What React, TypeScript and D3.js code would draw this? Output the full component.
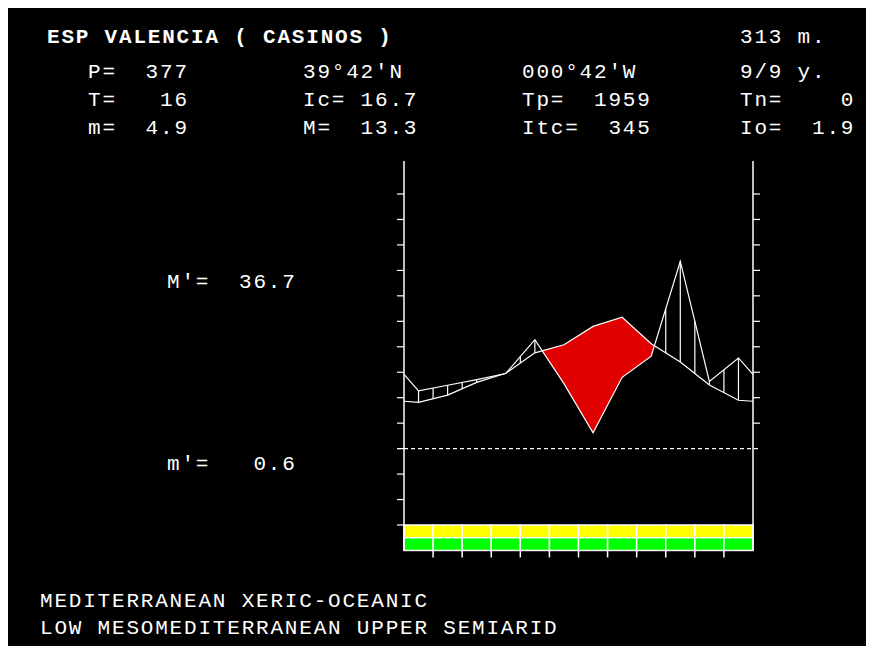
import React from "react";
import * as d3 from "d3";

// monthly means (Jan..Dec)
const months = ["J", "F", "M", "A", "M", "J", "J", "A", "S", "O", "N", "D"];
const temperature = [9.1, 10.5, 13.0, 14.8, 18.8, 20.4, 24.0, 25.8, 20.6, 17.0, 12.5, 9.5];
const precipitation = [22.7, 24.9, 27.1, 29.5, 42.8, 25.5, 6.2, 28.0, 36.3, 73.6, 26.4, 35.6];

// frost bands under the plot, one code per month
const frostUpper = ["Y", "Y", "Y", "Y", "Y", "Y", "Y", "Y", "Y", "Y", "Y", "Y"];
const frostLower = ["G", "G", "G", "G", "G", "G", "G", "G", "G", "G", "G", "G"];

const leftTicks = [-15, -10, -5, 0, 5, 10, 15, 20, 25, 30, 35, 40, 45, 50];
const rightTicks = [5, 10, 15, 20, 25, 30, 35, 40, 45, 50];

const title = "ESP VALENCIA ( CASINOS )";
const altitude = "313 m.";
const statRows = [
  ["P=  377", "39°42'N", "000°42'W", "9/9 y."],
  ["T=   16", "Ic= 16.7", "Tp=  1959", "Tn=    0"],
  ["m=  4.9", "M=  13.3", "Itc=  345", "Io=  1.9"],
];
const extremes = ["M'=  36.7", "m'=   0.6"];
const bioclimate = ["MEDITERRANEAN XERIC-OCEANIC", "LOW MESOMEDITERRANEAN UPPER SEMIARID"];

const bandColor: Record<string, string> = { Y: "#ffff00", G: "#00ff00" };

const OFF = 8; // body margin, everything below is in page pixels
const font = {
  fontFamily: "'Liberation Mono', 'DejaVu Sans Mono', monospace",
  fontSize: 21,
  letterSpacing: 1.8,
};
const pre = { whiteSpace: "pre" as const };

export default function App() {
  const x = d3.scaleLinear().domain([0, 12]).range([404, 753]);
  const y = d3.scaleLinear().domain([-15, 50]).range([525, 194]);
  const yTop = 56.5;
  const yBottom = -20;

  const pHalf = precipitation.map((p) => p / 2);
  const edgeT = (temperature[0] + temperature[11]) / 2;
  const edgeP = (pHalf[0] + pHalf[11]) / 2;
  const pos = [0, ...months.map((_, i) => i + 0.5), 12];
  const tVals = [edgeT, ...temperature, edgeT];
  const pVals = [edgeP, ...pHalf, edgeP];
  const tAt = d3.scaleLinear().domain(pos).range(tVals);
  const pAt = d3.scaleLinear().domain(pos).range(pVals);

  const tPts = pos.map((p, i) => [p, tVals[i]] as [number, number]);
  const pPts = pos.map((p, i) => [p, pVals[i]] as [number, number]);

  const line = d3
    .line<[number, number]>()
    .x((d) => x(d[0]))
    .y((d) => y(d[1]));
  const underT = d3
    .area<[number, number]>()
    .x((d) => x(d[0]))
    .y0(y(yBottom))
    .y1((d) => y(d[1]));
  const aboveP = d3
    .area<[number, number]>()
    .x((d) => x(d[0]))
    .y0((d) => y(d[1]))
    .y1(y(yTop));

  const hatch = d3
    .range(25)
    .map((k) => k / 2)
    .filter((h) => h > 0 && h < 12 && pAt(h) > tAt(h) + 0.1);

  const cols = [88, 303, 522, 740];
  const rowY = [78, 106, 134];

  return (
    <div>
      <style>{`html,body{overflow:hidden}`}</style>
      <svg width={866} height={638} style={{ display: "block", background: "#000" }}>
        <g transform={`translate(${-OFF},${-OFF})`}>
          <defs>
            <clipPath id="dry">
              <path d={underT(tPts) || ""} />
            </clipPath>
          </defs>

          <g fill="#fff">
            <text x={47} y={43} {...font} fontWeight="bold" style={pre}>
              {title}
            </text>
            <text x={740} y={43} {...font} style={pre}>
              {altitude}
            </text>
            {statRows.map((row, r) =>
              row.map((s, c) => (
                <text key={`${r}-${c}`} x={cols[c]} y={rowY[r]} {...font} style={pre}>
                  {s}
                </text>
              ))
            )}
            <text x={167} y={288} {...font} style={pre}>
              {extremes[0]}
            </text>
            <text x={167} y={470} {...font} style={pre}>
              {extremes[1]}
            </text>
            {bioclimate.map((s, i) => (
              <text key={s} x={40} y={607 + i * 27} {...font} style={pre}>
                {s}
              </text>
            ))}
          </g>

          {/* dry period */}
          <g clipPath="url(#dry)">
            <path d={aboveP(pPts) || ""} fill="#e00000" />
          </g>

          {/* humid period hatching */}
          {hatch.map((h) => (
            <line key={h} x1={x(h)} x2={x(h)} y1={y(pAt(h))} y2={y(tAt(h))} stroke="#fff" strokeWidth={1.2} />
          ))}

          <path d={line(tPts) || ""} fill="none" stroke="#fff" strokeWidth={1.2} />
          <path d={line(pPts) || ""} fill="none" stroke="#fff" strokeWidth={1.2} />

          {/* frost bands */}
          {months.map((m, i) => (
            <g key={i}>
              <rect
                x={x(i)}
                y={y(-15)}
                width={x(i + 1) - x(i)}
                height={y(-17.5) - y(-15)}
                fill={bandColor[frostUpper[i]]}
                stroke="#fff"
                strokeWidth={1.5}
              />
              <rect
                x={x(i)}
                y={y(-17.5)}
                width={x(i + 1) - x(i)}
                height={y(yBottom) - y(-17.5)}
                fill={bandColor[frostLower[i]]}
                stroke="#fff"
                strokeWidth={1.5}
              />
            </g>
          ))}
          {d3.range(1, 12).map((i) => (
            <line key={i} x1={x(i)} x2={x(i)} y1={y(yBottom)} y2={y(yBottom) + 7} stroke="#fff" strokeWidth={1.5} />
          ))}

          {/* axes */}
          <line x1={x(0)} x2={x(0)} y1={y(yTop)} y2={y(yBottom)} stroke="#fff" strokeWidth={1.5} />
          <line x1={x(12)} x2={x(12)} y1={y(yTop)} y2={y(yBottom)} stroke="#fff" strokeWidth={1.5} />
          {leftTicks.map((t) => (
            <line key={t} x1={x(0) - 7} x2={x(0)} y1={y(t)} y2={y(t)} stroke="#fff" strokeWidth={1.2} />
          ))}
          {rightTicks.map((t) => (
            <line key={t} x1={x(12)} x2={x(12) + 7} y1={y(t)} y2={y(t)} stroke="#fff" strokeWidth={1.2} />
          ))}
          <line
            x1={x(0) - 7}
            x2={x(12) + 7}
            y1={y(0)}
            y2={y(0)}
            stroke="#fff"
            strokeWidth={1.2}
            strokeDasharray="4,3"
          />
        </g>
      </svg>
    </div>
  );
}
